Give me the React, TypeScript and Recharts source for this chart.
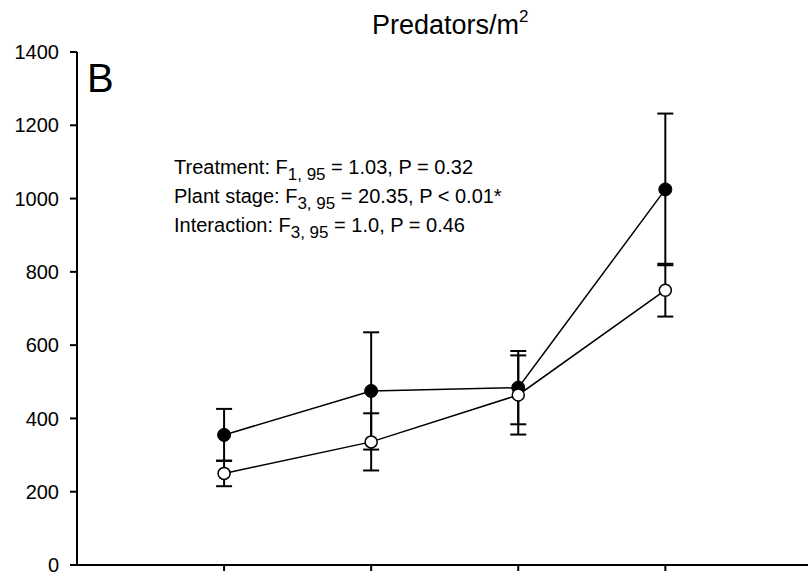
import React from 'react';
import { LineChart, Line, XAxis, YAxis, ErrorBar } from 'recharts';

const stages = [1, 2, 3, 4];
const filledMean = [355, 475, 484, 1025];
const filledErr = [71, 160, 100, 207];
const openMean = [250, 336, 464, 750];
const openErr = [35, 78, 108, 72];
const yTicks = [0, 200, 400, 600, 800, 1000, 1200, 1400];

const data = stages.map((s, i) => ({
  stage: s,
  filled: filledMean[i],
  filledErr: filledErr[i],
  open: openMean[i],
  openErr: openErr[i],
}));

const FONT = 'Liberation Sans, Arial, Helvetica, sans-serif';

export default function App() {
  return (
    <div style={{ position: 'absolute', left: 0, top: 0, width: 808, height: 577, overflow: 'hidden', background: '#fff' }}>
      <LineChart width={808} height={577} data={data} margin={{ top: 52, right: 0, bottom: 0, left: 0 }}>
        <XAxis
          dataKey="stage"
          type="number"
          domain={[0, 4.97]}
          ticks={stages}
          allowDataOverflow
          height={12}
          tickSize={6}
          tickFormatter={() => ''}
          axisLine={{ stroke: '#000', strokeWidth: 2 }}
          tickLine={{ stroke: '#000', strokeWidth: 2 }}
        />
        <YAxis
          type="number"
          domain={[0, 1400]}
          ticks={yTicks}
          allowDataOverflow
          width={77}
          tickSize={7}
          tickMargin={11}
          axisLine={{ stroke: '#000', strokeWidth: 2 }}
          tickLine={{ stroke: '#000', strokeWidth: 2 }}
          tick={{ fill: '#000', fontSize: 20, fontFamily: FONT }}
        />
        <Line
          dataKey="filled"
          stroke="#000"
          strokeWidth={1.5}
          isAnimationActive={false}
          dot={{ r: 6.5, fill: '#000', stroke: '#000', strokeWidth: 1 }}
        >
          <ErrorBar dataKey="filledErr" direction="y" width={8} stroke="#000" strokeWidth={2} />
        </Line>
        <Line
          dataKey="open"
          stroke="#000"
          strokeWidth={1.5}
          isAnimationActive={false}
          dot={{ r: 6, fill: '#fff', stroke: '#000', strokeWidth: 1.5 }}
        >
          <ErrorBar dataKey="openErr" direction="y" width={8} stroke="#000" strokeWidth={2} />
        </Line>
      </LineChart>
      <svg width={808} height={577} style={{ position: 'absolute', left: 0, top: 0, pointerEvents: 'none' }}>
        <g fontFamily={FONT} fill="#000">
          <text x={372} y={34} fontSize={27}>
            Predators/m<tspan dy={-12} fontSize={17}>2</tspan>
          </text>
          <text x={87} y={92} fontSize={40}>B</text>
          <text x={174} y={174} fontSize={20}>
            Treatment: F<tspan dy={6} fontSize={17}>1, 95</tspan><tspan dy={-6}> = 1.03, P = 0.32</tspan>
          </text>
          <text x={174} y={203} fontSize={20}>
            Plant stage: F<tspan dy={6} fontSize={17}>3, 95</tspan><tspan dy={-6}> = 20.35, P &lt; 0.01*</tspan>
          </text>
          <text x={174} y={232} fontSize={20}>
            Interaction: F<tspan dy={6} fontSize={17}>3, 95</tspan><tspan dy={-6}> = 1.0, P = 0.46</tspan>
          </text>
        </g>
      </svg>
    </div>
  );
}
